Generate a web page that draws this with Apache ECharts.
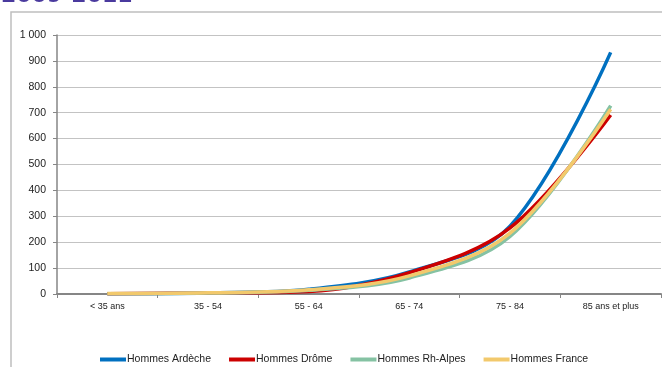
<!DOCTYPE html>
<html>
<head>
<meta charset="utf-8">
<script src="https://cdn.jsdelivr.net/npm/echarts@6/dist/echarts.min.js"></script>
<style>
html,body{margin:0;padding:0;background:#fff;}
#c{width:662px;height:367px;}
</style>
</head>
<body>
<div id="c"></div>
<script>
var categories = ['< 35 ans', '35 - 54', '55 - 64', '65 - 74', '75 - 84', '85 ans et plus'];
var ardeche = [1, 4, 18, 85, 262, 933];
var drome = [1, 4, 10, 82, 255, 691];
var rhalpes = [1, 4, 14, 62, 222, 727];
var france = [2, 5, 16, 70, 235, 713];
var seriesNames = ['Hommes Ardèche', 'Hommes Drôme', 'Hommes Rh-Alpes', 'Hommes France'];
var seriesColors = ['#0070c0', '#cc0000', '#85c2a3', '#f2c96c'];
var yTicks = { min: 0, max: 1000, interval: 100 };

var chart = echarts.init(document.getElementById('c'), null, { renderer: 'canvas' });
var dataSets = [ardeche, drome, rhalpes, france];
var font = '"Liberation Sans", Arial, sans-serif';

chart.setOption({
  animation: false,
  backgroundColor: '#ffffff',
  graphic: [
    { type: 'rect', x: 11, y: 12, shape: { x: 0, y: 0, width: 700, height: 400 },
      style: { fill: 'none', stroke: '#bfbfbf', lineWidth: 1.5 }, z: -1 },
    { type: 'text', x: 1, y: 7,
      style: { text: '2009-2011', x: 0, y: 0, fill: '#4a3a9e', fontSize: 22, fontWeight: 'bold',
        fontFamily: '"DejaVu Sans", sans-serif', verticalAlign: 'bottom', textVerticalAlign: 'bottom' } }
  ],
  grid: { left: 57, right: 1, top: 35, bottom: 73, containLabel: false },
  legend: {
    left: 95, top: 349,
    itemWidth: 26, itemHeight: 4, itemGap: 18,
    icon: 'rect',
    textStyle: { fontFamily: font, fontSize: 10.5, color: '#222', padding: [0, 0, 0, -4] },
    data: seriesNames
  },
  xAxis: {
    type: 'category',
    data: categories,
    boundaryGap: true,
    axisLine: { lineStyle: { color: '#868686', width: 2 } },
    axisTick: { show: true, length: 4, lineStyle: { color: '#868686', width: 1 } },
    axisLabel: { fontFamily: font, fontSize: 9, color: '#222', margin: 8, interval: 0 }
  },
  yAxis: {
    type: 'value',
    min: yTicks.min, max: yTicks.max, interval: yTicks.interval,
    axisLine: { show: true, lineStyle: { color: '#868686', width: 1.5 } },
    axisTick: { show: true, length: 4, lineStyle: { color: '#868686' } },
    axisLabel: {
      fontFamily: font, fontSize: 10.5, color: '#222', margin: 11,
      formatter: function (v) { return v >= 1000 ? String(v).replace(/\B(?=(\d{3})+(?!\d))/g, ' ') : String(v); }
    },
    splitLine: { lineStyle: { color: '#c3c3c3', width: 1 } }
  },
  series: dataSets.map(function (d, i) {
    return {
      name: seriesNames[i],
      type: 'line',
      data: d,
      smooth: 0.35,
      showSymbol: false,
      symbol: 'none',
      color: seriesColors[i],
      lineStyle: { width: 3.5, color: seriesColors[i] },
      z: 2 + i
    };
  })
});
</script>
</body>
</html>
